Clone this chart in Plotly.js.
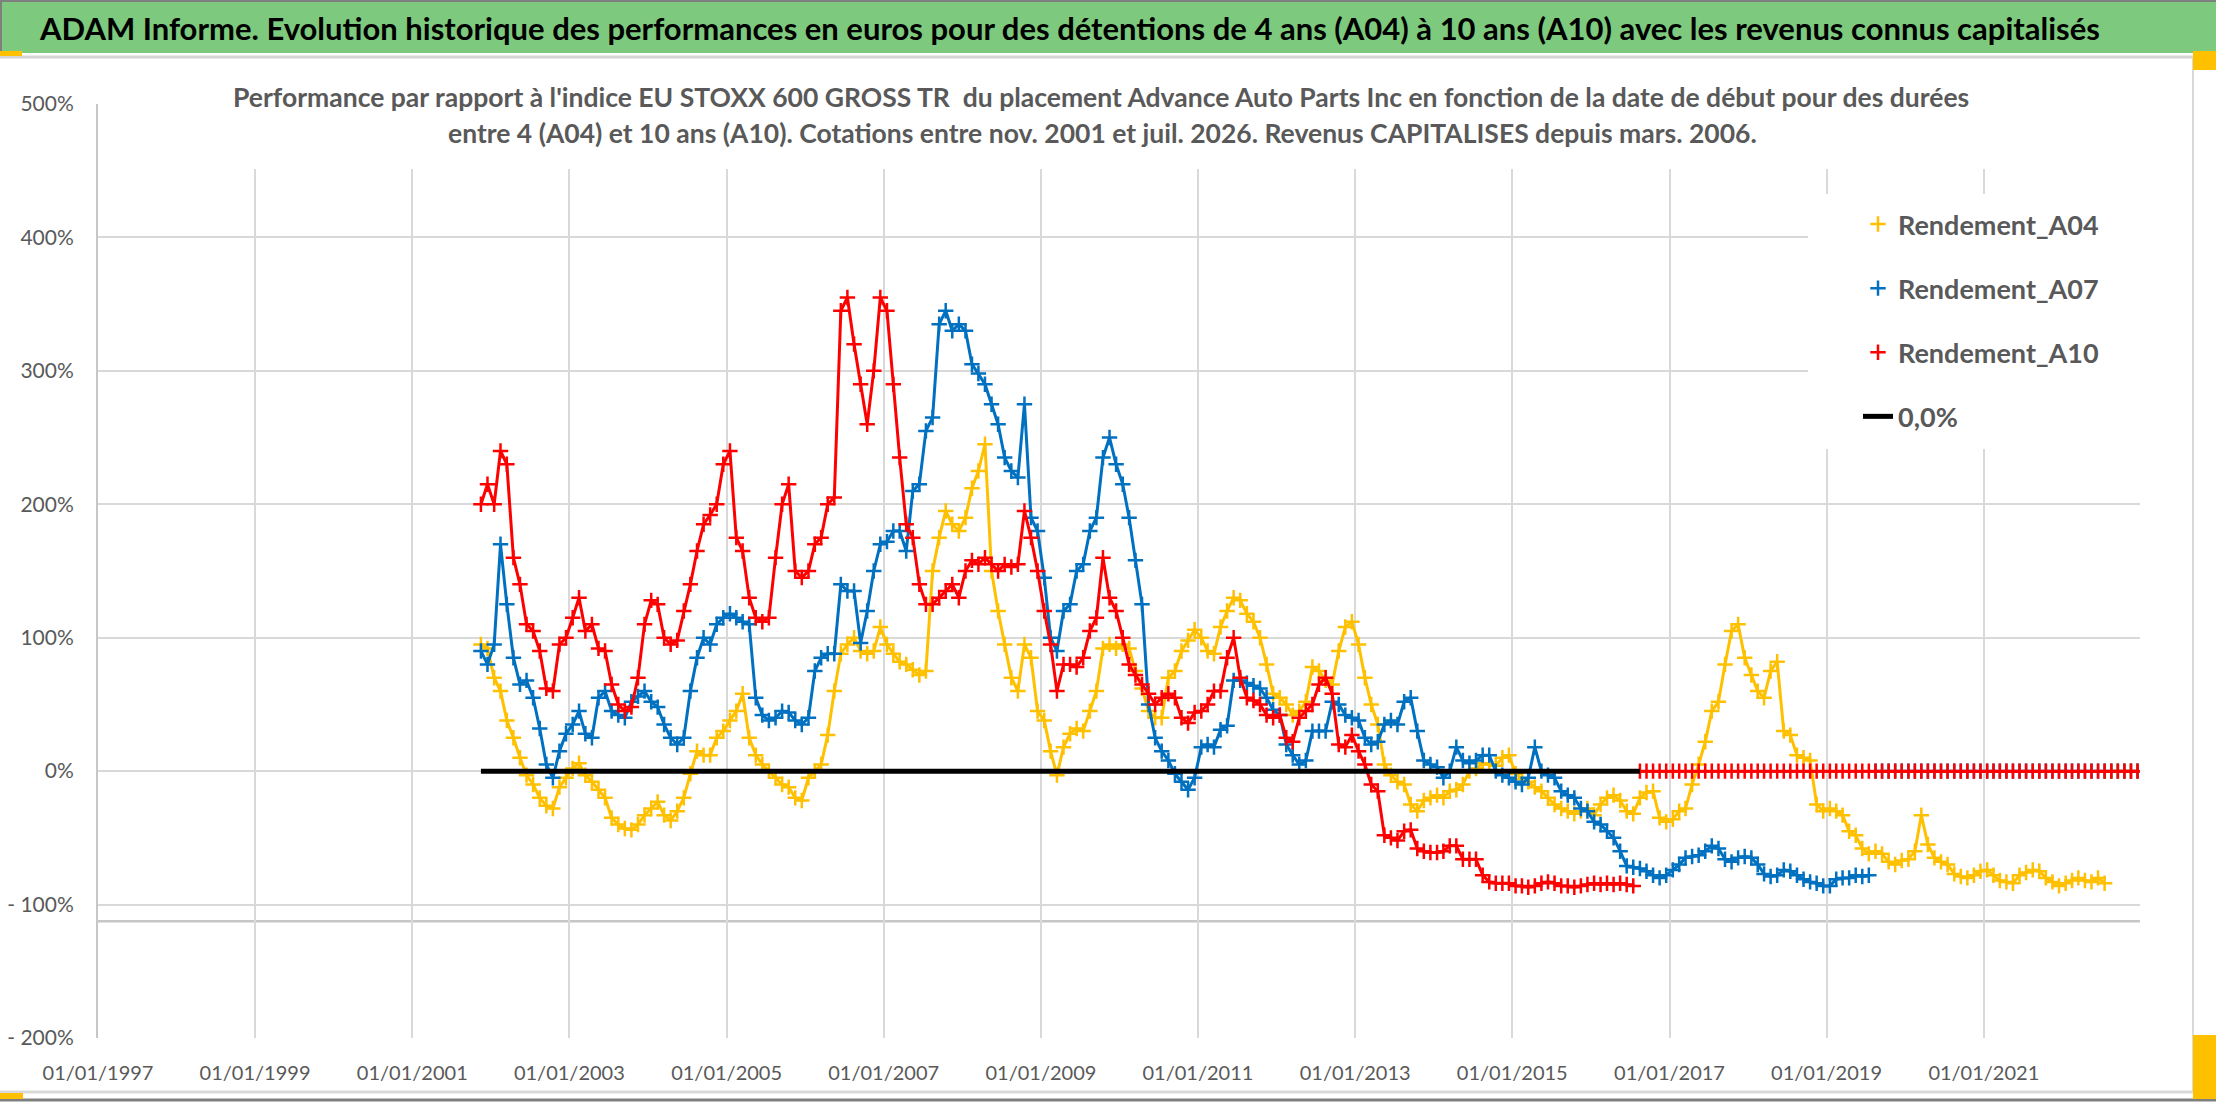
<!DOCTYPE html>
<html>
<head>
<meta charset="utf-8">
<script src="https://cdn.plot.ly/plotly-3.0.1.min.js"></script>
<style>
  html, body { margin: 0; padding: 0; background: #fff; }
  #chart { width: 2216px; height: 1102px; }
</style>
</head>
<body>
<div id="chart"></div>
<script>
// start month of each value (mid-month via xperiodalignment)
const months = [
  '2001-11','2001-12',
  '2002-01','2002-02','2002-03','2002-04','2002-05','2002-06','2002-07','2002-08','2002-09','2002-10','2002-11','2002-12',
  '2003-01','2003-02','2003-03','2003-04','2003-05','2003-06','2003-07','2003-08','2003-09','2003-10','2003-11','2003-12',
  '2004-01','2004-02','2004-03','2004-04','2004-05','2004-06','2004-07','2004-08','2004-09','2004-10','2004-11','2004-12',
  '2005-01','2005-02','2005-03','2005-04','2005-05','2005-06','2005-07','2005-08','2005-09','2005-10','2005-11','2005-12',
  '2006-01','2006-02','2006-03','2006-04','2006-05','2006-06','2006-07','2006-08','2006-09','2006-10','2006-11','2006-12',
  '2007-01','2007-02','2007-03','2007-04','2007-05','2007-06','2007-07','2007-08','2007-09','2007-10','2007-11','2007-12',
  '2008-01','2008-02','2008-03','2008-04','2008-05','2008-06','2008-07','2008-08','2008-09','2008-10','2008-11','2008-12',
  '2009-01','2009-02','2009-03','2009-04','2009-05','2009-06','2009-07','2009-08','2009-09','2009-10','2009-11','2009-12',
  '2010-01','2010-02','2010-03','2010-04','2010-05','2010-06','2010-07','2010-08','2010-09','2010-10','2010-11','2010-12',
  '2011-01','2011-02','2011-03','2011-04','2011-05','2011-06','2011-07','2011-08','2011-09','2011-10','2011-11','2011-12',
  '2012-01','2012-02','2012-03','2012-04','2012-05','2012-06','2012-07','2012-08','2012-09','2012-10','2012-11','2012-12',
  '2013-01','2013-02','2013-03','2013-04','2013-05','2013-06','2013-07','2013-08','2013-09','2013-10','2013-11','2013-12',
  '2014-01','2014-02','2014-03','2014-04','2014-05','2014-06','2014-07','2014-08','2014-09','2014-10','2014-11','2014-12',
  '2015-01','2015-02','2015-03','2015-04','2015-05','2015-06','2015-07','2015-08','2015-09','2015-10','2015-11','2015-12',
  '2016-01','2016-02','2016-03','2016-04','2016-05','2016-06','2016-07','2016-08','2016-09','2016-10','2016-11','2016-12',
  '2017-01','2017-02','2017-03','2017-04','2017-05','2017-06','2017-07','2017-08','2017-09','2017-10','2017-11','2017-12',
  '2018-01','2018-02','2018-03','2018-04','2018-05','2018-06','2018-07','2018-08','2018-09','2018-10','2018-11','2018-12',
  '2019-01','2019-02','2019-03','2019-04','2019-05','2019-06','2019-07','2019-08','2019-09','2019-10','2019-11','2019-12',
  '2020-01','2020-02','2020-03','2020-04','2020-05','2020-06','2020-07','2020-08','2020-09','2020-10','2020-11','2020-12',
  '2021-01','2021-02','2021-03','2021-04','2021-05','2021-06','2021-07','2021-08','2021-09','2021-10','2021-11','2021-12',
  '2022-01','2022-02','2022-03','2022-04','2022-05','2022-06','2022-07','2022-08','2022-09','2022-10','2022-11','2022-12'
];

// performance in %, one value per month above; 0 once the period is not over yet
const rendA04 = [
  95, 92,
  70, 60, 38, 25, 10, -3, -10, -20, -26, -28, -12, -5,
  2, 6, -3, -8, -14, -20, -35, -40, -43, -44, -40, -33,
  -28, -23, -33, -37, -30, -20, -2, 15, 12, 12, 25, 30,
  38, 45, 58, 25, 12, 5, 0, -5, -10, -12, -20, -22,
  -5, 0, 5, 27, 60, 88, 95, 100, 90, 88, 90, 108,
  95, 88, 82, 80, 76, 72, 75, 150, 175, 195, 185, 180,
  190, 212, 225, 245, 150, 120, 95, 70, 60, 95, 85, 45,
  38, 15, -3, 18, 28, 32, 30, 45, 60, 92, 95, 92,
  95, 92, 75, 62, 45, 40, 40, 70, 75, 90, 98, 106,
  100, 90, 88, 108, 120, 130, 128, 118, 112, 100, 80, 58,
  55, 50, 42, 45, 52, 78, 75, 68, 65, 90, 108, 112,
  95, 70, 50, 35, 5, -3, -8, -10, -25, -30, -22, -20,
  -18, -20, -15, -14, -10, 0, 2, 6, 5, 4, 10, 12,
  -2, -6, -8, -12, -15, -20, -25, -28, -30, -32, -30, -28,
  -33, -25, -20, -18, -22, -30, -32, -20, -16, -15, -35, -38,
  -36, -30, -28, -10, 5, 22, 45, 52, 80, 105, 110, 85,
  72, 60, 55, 75, 82, 30, 27, 12, 10, 8, -25, -30,
  -28, -30, -33, -45, -48, -58, -62, -60, -62, -68, -70, -67,
  -66, -60, -33, -55, -65, -68, -70, -77, -79, -80, -78, -75,
  -74, -78, -82, -83, -84, -78, -76, -74, -75, -80, -83, -86,
  -84, -82, -80, -82, -83, -80, -84, 0, 0, 0, 0, 0
];

const rendA07 = [
  90, 80,
  95, 170, 125, 85, 65, 68, 55, 32, 5, -5, 15, 28,
  35, 45, 28, 25, 55, 60, 45, 42, 40, 52, 56, 60,
  52, 48, 35, 25, 20, 25, 60, 85, 100, 95, 110, 115,
  118, 115, 112, 110, 55, 42, 38, 40, 45, 44, 38, 35,
  40, 75, 85, 88, 88, 140, 135, 135, 96, 120, 150, 170,
  172, 180, 180, 165, 210, 215, 255, 265, 335, 345, 330, 335,
  330, 305, 298, 290, 275, 260, 235, 225, 220, 275, 190, 180,
  145, 100, 90, 120, 125, 150, 155, 180, 190, 235, 250, 230,
  215, 190, 158, 125, 50, 25, 15, 8, -2, -8, -14, -5,
  18, 20, 18, 31, 34, 68, 68, 66, 64, 62, 55, 46,
  42, 20, 12, 5, 8, 30, 30, 30, 52, 50, 42, 40,
  38, 25, 20, 22, 35, 38, 35, 52, 55, 30, 8, 5,
  3, -5, 0, 18, 8, 6, 8, 12, 12, 0, -3, -5,
  -8, -10, -5, 18, 0, -3, -5, -15, -18, -20, -28, -30,
  -38, -40, -45, -50, -60, -71, -72, -73, -75, -78, -80, -78,
  -74, -70, -65, -64, -63, -60, -56, -58, -66, -68, -65, -64,
  -65, -70, -77, -79, -78, -74, -75, -78, -81, -83, -84, -86,
  -86, -81, -80, -80, -78, -79, -78, 0, 0, 0, 0, 0,
  0, 0, 0, 0, 0, 0, 0, 0, 0, 0, 0, 0,
  0, 0, 0, 0, 0, 0, 0, 0, 0, 0, 0, 0,
  0, 0, 0, 0, 0, 0, 0, 0, 0, 0, 0, 0
];

const rendA10 = [
  200, 215,
  200, 240, 230, 160, 140, 110, 105, 90, 62, 60, 95, 100,
  115, 130, 105, 110, 92, 90, 65, 50, 45, 48, 70, 110,
  128, 125, 100, 95, 98, 120, 140, 165, 185, 192, 200, 230,
  240, 175, 165, 130, 115, 112, 115, 160, 200, 215, 150, 145,
  150, 170, 175, 200, 205, 345, 355, 320, 290, 260, 300, 355,
  345, 290, 235, 185, 175, 140, 125, 125, 130, 135, 140, 130,
  150, 158, 155, 160, 155, 150, 155, 153, 155, 195, 175, 150,
  120, 95, 60, 80, 80, 78, 85, 105, 115, 160, 130, 120,
  100, 80, 72, 65, 58, 50, 55, 58, 55, 40, 36, 44,
  45, 50, 60, 60, 85, 100, 70, 55, 53, 50, 42, 40,
  42, 25, 22, 40, 45, 50, 65, 70, 58, 20, 18, 27,
  15, 5, -10, -15, -48, -50, -52, -45, -44, -58, -60, -61,
  -61, -60, -56, -56, -66, -66, -66, -78, -83, -84, -84, -84,
  -86, -86, -87, -86, -84, -83, -84, -86, -86, -87, -86, -85,
  -84, -85, -84, -85, -84, -85, -86, 0, 0, 0, 0, 0,
  0, 0, 0, 0, 0, 0, 0, 0, 0, 0, 0, 0,
  0, 0, 0, 0, 0, 0, 0, 0, 0, 0, 0, 0,
  0, 0, 0, 0, 0, 0, 0, 0, 0, 0, 0, 0,
  0, 0, 0, 0, 0, 0, 0, 0, 0, 0, 0, 0,
  0, 0, 0, 0, 0, 0, 0, 0, 0, 0, 0, 0,
  0, 0, 0, 0, 0, 0, 0, 0, 0, 0, 0, 0
];

// last month with a known (non zero) result
const lastKnown = {a04: '2022-07', a07: '2019-07', a10: '2016-07'};

const zeroDates = ['2001-11', '2016-08'];
const zeroVals = [0, 0];

const yTickVals = [-200, -100, 0, 100, 200, 300, 400, 500];
const yTickText = ['- 200%', '- 100%', '0%', '100%', '200%', '300%', '400%', '500%'];

const W = 2216, H = 1102;
const M = {l: 98, r: 76, t: 104, b: 64};
const PW = W - M.l - M.r;
const PH = H - M.t - M.b;
const px = x => (x - M.l) / PW;
const py = y => (H - M.b - y) / PH;

const FONT = 'Lato, "Liberation Sans", sans-serif';
const GREY = '#595959';

function series(name, key, vals, color) {
    let n = months.indexOf(lastKnown[key]) + 1;
    let common = {type: 'scatter', xperiod: 'M1', xperiodalignment: 'middle', hoverinfo: 'skip'};
    let known = Object.assign({}, common, {
        x: months.slice(0, n), y: vals.slice(0, n), mode: 'lines',
        line: {color: color, width: 3}, showlegend: false, legendgroup: key
    });
    let later = Object.assign({}, common, {
        x: months.slice(n), y: vals.slice(n), mode: 'lines',
        line: {color: color, width: 3}, showlegend: false, legendgroup: key
    });
    let pts = Object.assign({}, common, {
        x: months, y: vals, mode: 'markers', name: name, legendgroup: key,
        marker: {symbol: 'cross-thin-open', size: 11, color: color, line: {color: color, width: 2.5}}
    });
    return [known, later, pts];
}

let traces = [].concat(
    series('Rendement_A04', 'a04', rendA04, '#FFC000'),
    series('Rendement_A07', 'a07', rendA07, '#0070C0'),
    series('Rendement_A10', 'a10', rendA10, '#FF0000'),
    [{
        type: 'scatter', x: zeroDates, y: zeroVals, mode: 'lines', name: '0,0%',
        xperiod: 'M1', xperiodalignment: 'middle', legendgroup: 'zero',
        line: {color: '#000000', width: 5}, hoverinfo: 'skip'
    }]
);

function rect(x0, y0, x1, y1, fill, layer) {
    return {type: 'rect', xref: 'paper', yref: 'paper', x0: px(x0), x1: px(x1), y0: py(y1), y1: py(y0),
            fillcolor: fill, line: {width: 0}, layer: layer || 'below'};
}
function hline(x0, x1, y, color, width) {
    return {type: 'line', xref: 'paper', yref: 'paper', x0: px(x0), x1: px(x1), y0: py(y), y1: py(y),
            line: {color: color, width: width}, layer: 'below'};
}
function vline(x, y0, y1, color, width) {
    return {type: 'line', xref: 'paper', yref: 'paper', x0: px(x), x1: px(x), y0: py(y0), y1: py(y1),
            line: {color: color, width: width}, layer: 'below'};
}

let shapes = [
    rect(0, 0, W, 53, '#7DC97D'),
    hline(0, W, 1, '#7f7f7f', 2),
    vline(1, 0, 53, '#7f7f7f', 2),
    hline(0, W, 57, '#d4d4d4', 3),
    vline(2193, 58, 1092, '#d9d9d9', 2),
    hline(0, W, 1092, '#d9d9d9', 3),
    hline(0, W, 1100, '#7f7f7f', 3),
    rect(0, 51, 22, 56, '#FFC000'),
    rect(2193, 51, W, 70, '#FFC000'),
    rect(0, 1093, 23, 1099, '#FFC000'),
    rect(2193, 1035, W, 1099, '#FFC000'),
    // Excel horizontal axis line, a little under -100%
    {type: 'line', xref: 'paper', yref: 'y', x0: 0, x1: 1, y0: -112.5, y1: -112.5,
     line: {color: '#c6c6c6', width: 2.5}, layer: 'below'},
    // white boxes behind the chart title and the legend
    rect(223, 78, 1985, 169, '#ffffff', 'above'),
    rect(1808, 194, 2140, 449, '#ffffff', 'above')
];

let annotations = [
    {xref: 'paper', yref: 'paper', x: px(1069), y: py(28), xanchor: 'center', yanchor: 'middle', showarrow: false,
     text: 'ADAM Informe. Evolution historique des performances en euros pour des détentions de 4 ans (A04) à 10 ans (A10) avec les revenus connus capitalisés',
     font: {family: FONT, size: 31, color: '#000000', weight: 'bold'}},
    {xref: 'paper', yref: 'paper', x: px(1101), y: py(97), xanchor: 'center', yanchor: 'middle', showarrow: false,
     text: 'Performance par rapport à l\'indice EU STOXX 600 GROSS TR  du placement Advance Auto Parts Inc en fonction de la date de début pour des durées',
     font: {family: FONT, size: 26.5, color: GREY, weight: 'bold'}},
    {xref: 'paper', yref: 'paper', x: px(1102), y: py(133), xanchor: 'center', yanchor: 'middle', showarrow: false,
     text: 'entre 4 (A04) et 10 ans (A10). Cotations entre nov. 2001 et juil. 2026. Revenus CAPITALISES depuis mars. 2006.',
     font: {family: FONT, size: 26.5, color: GREY, weight: 'bold'}}
];

let layout = {
    width: W, height: H,
    margin: M,
    paper_bgcolor: '#ffffff',
    plot_bgcolor: '#ffffff',
    font: {family: FONT, color: GREY},
    xaxis: {
        type: 'date', range: ['1997-01-01', '2022-12-28'],
        tick0: '1997-01-01', dtick: 'M24', tickformat: '%d/%m/%Y',
        showgrid: true, gridcolor: '#d9d9d9', gridwidth: 2,
        zeroline: false, showline: false, ticks: '',
        tickfont: {family: FONT, size: 20, color: GREY},
        ticklabelstandoff: 21
    },
    yaxis: {
        range: [-200, 500], tickvals: yTickVals, ticktext: yTickText,
        showgrid: true, gridcolor: '#d9d9d9', gridwidth: 2,
        zeroline: false, showline: true, linecolor: '#c6c6c6', linewidth: 2, ticks: '',
        tickfont: {family: FONT, size: 21, color: GREY},
        ticklabelstandoff: 18
    },
    showlegend: true,
    legend: {
        x: px(1858), xanchor: 'left', y: py(200), yanchor: 'top',
        bgcolor: 'rgba(0,0,0,0)', borderwidth: 0,
        font: {family: FONT, size: 27, color: GREY, weight: 'bold'},
        tracegroupgap: 26, itemwidth: 30
    },
    shapes: shapes,
    annotations: annotations
};

Plotly.newPlot('chart', traces, layout, {staticPlot: true, displayModeBar: false});
</script>
</body>
</html>
